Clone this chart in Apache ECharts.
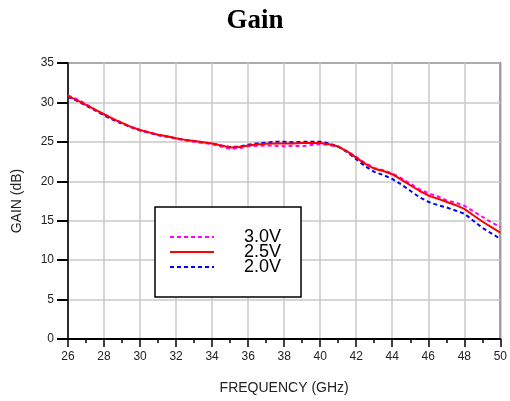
<!DOCTYPE html>
<html><head><meta charset="utf-8">
<script src="https://cdn.jsdelivr.net/npm/echarts@6/dist/echarts.min.js"></script>
<style>html,body{margin:0;padding:0;background:#fff}#c{width:510px;height:401px}</style>
</head><body><div id="c"></div>
<script>
const freq = [26,26.5,27,27.5,28,28.5,29,29.5,30,30.5,31,31.5,32,32.5,33,33.5,34,34.5,35,35.5,36,36.5,37,37.5,38,38.5,39,39.5,40,40.5,41,41.5,42,42.5,43,43.5,44,44.5,45,45.5,46,46.5,47,47.5,48,48.5,49,49.5,50];
const gain30 = [30.9,30.4,29.8,29.1,28.5,27.9,27.4,26.9,26.5,26.2,25.9,25.65,25.4,25.2,25.0,24.85,24.7,24.4,24.1,24.2,24.45,24.5,24.55,24.5,24.45,24.5,24.45,24.6,24.7,24.6,24.4,23.8,23.1,22.3,21.7,21.4,21.0,20.4,19.7,19.0,18.5,18.1,17.6,17.3,16.9,16.2,15.5,14.8,14.2];
const gain25 = [30.8,30.3,29.7,29.1,28.5,27.9,27.4,26.9,26.5,26.2,25.9,25.7,25.45,25.25,25.1,24.95,24.8,24.55,24.3,24.35,24.55,24.65,24.75,24.8,24.8,24.8,24.85,24.85,24.85,24.7,24.4,23.8,23.0,22.2,21.6,21.3,20.9,20.2,19.5,18.8,18.2,17.8,17.4,17.0,16.5,15.7,14.9,14.2,13.5];
const gain20 = [30.7,30.2,29.6,29.0,28.35,27.8,27.3,26.85,26.45,26.15,25.85,25.65,25.45,25.25,25.1,24.95,24.8,24.55,24.35,24.4,24.65,24.8,24.9,25.0,25.0,24.95,25.0,25.0,25.0,24.8,24.4,23.7,22.8,21.9,21.2,20.8,20.3,19.6,18.8,18.0,17.4,17.0,16.7,16.3,15.9,15.0,14.1,13.4,12.7];
const seriesNames = ['3.0V','2.5V','2.0V'];
const xTicks = {min:26, max:50, interval:2};
const yTicks = {min:0, max:35, interval:5};

const pair = arr => freq.map((f,i)=>[f,arr[i]]);
const chart = echarts.init(document.getElementById('c'));
chart.setOption({
  animation:false,
  backgroundColor:'#fff',
  title:{text:'Gain', left:'center', top:3,
    textStyle:{fontFamily:'Liberation Serif', fontWeight:'bold', fontSize:27, color:'#000'}},
  grid:{left:68, right:5, top:63, bottom:62, show:true, borderColor:'#222', borderWidth:1.5, backgroundColor:'transparent'},
  legend:{
    data:seriesNames, orient:'vertical', left:155, top:207,
    itemWidth:44, itemHeight:15, itemGap:-3,
    borderColor:'#000', borderWidth:1.5, padding:[21,20,21,14],
    backgroundColor:'#fff',
    itemStyle:{opacity:0, borderWidth:0},
    textStyle:{fontFamily:'Liberation Sans', fontSize:18, lineHeight:15, color:'#000', padding:[0,0,0,25]}
  },
  xAxis:{type:'value', min:xTicks.min, max:xTicks.max, interval:xTicks.interval,
    name:'FREQUENCY (GHz)', nameLocation:'middle', nameGap:42,
    nameTextStyle:{fontFamily:'Liberation Sans', fontSize:14, color:'#222'},
    axisLine:{show:true, onZero:false, lineStyle:{color:'#000', width:2}},
    axisTick:{show:true, length:8, lineStyle:{color:'#000', width:1.5}},
    minorTick:{show:true, splitNumber:2, length:4, lineStyle:{color:'#000', width:1.5}},
    axisLabel:{margin:12, fontFamily:'Liberation Sans', fontSize:12, color:'#222'},
    splitLine:{show:true, lineStyle:{color:'#c8c8c8', width:1.5}}
  },
  yAxis:{type:'value', min:yTicks.min, max:yTicks.max, interval:yTicks.interval,
    name:'GAIN (dB)', nameLocation:'middle', nameGap:44,
    nameTextStyle:{fontFamily:'Liberation Sans', fontSize:14, color:'#222'},
    axisLine:{show:true, lineStyle:{color:'#000', width:1.5}},
    axisTick:{show:true, length:11, lineStyle:{color:'#000', width:2}},
    axisLabel:{margin:14, fontFamily:'Liberation Sans', fontSize:12, color:'#222'},
    splitLine:{show:true, lineStyle:{color:'#c8c8c8', width:1.5}}
  },
  series:[
    {name:seriesNames[0], type:'line', data:pair(gain30), symbol:'none', z:3,
      lineStyle:{color:'#ff00ff', width:2, type:[4,3]}, itemStyle:{color:'#ff00ff'}},
    {name:seriesNames[1], type:'line', data:pair(gain25), symbol:'none', z:4,
      lineStyle:{color:'#ff0000', width:2}, itemStyle:{color:'#ff0000'}},
    {name:seriesNames[2], type:'line', data:pair(gain20), symbol:'none', z:2,
      lineStyle:{color:'#0000ff', width:2, type:[4,3]}, itemStyle:{color:'#0000ff'}}
  ]
});
</script></body></html>
